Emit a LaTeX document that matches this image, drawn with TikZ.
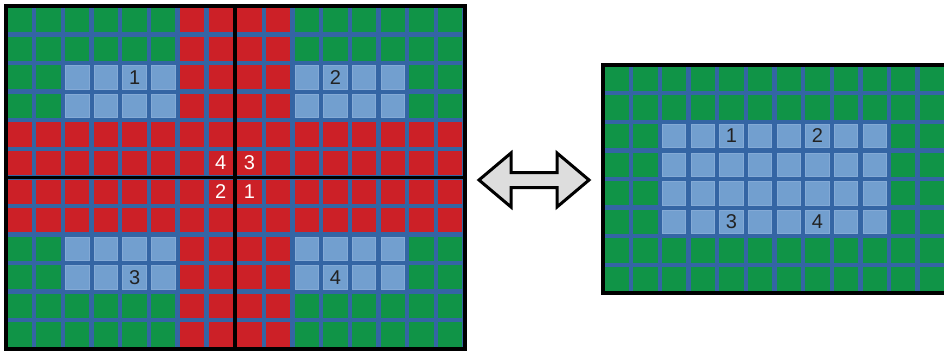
\documentclass[tikz,border=0pt]{standalone}
\usepackage{fontspec}
\setmainfont{Liberation Sans}
\definecolor{gr}{HTML}{109447}
\definecolor{rd}{HTML}{CC2027}
\definecolor{bl}{HTML}{3465A4}
\definecolor{lb}{HTML}{729FCF}
\definecolor{lbe}{HTML}{84AAD6}
\definecolor{ag}{HTML}{DDDDDD}
\definecolor{tx}{HTML}{222222}
\tikzset{
  cellg/.style={fill=gr},
  cellr/.style={fill=rd},
  cellb/.style={fill=lb, draw=lbe, line width=0.8pt},
  frame/.style={draw=black, line width=4pt},
  lbl/.style={font=\fontsize{20}{20}\selectfont, text=tx, inner sep=0pt},
  wlbl/.style={font=\fontsize{20}{20}\selectfont, text=white, inner sep=0pt},
}
\begin{document}
\begin{tikzpicture}[x=1pt,y=-1pt]
\useasboundingbox (0,0) rectangle (944,356);
\clip (0,0) rectangle (944,356);
% ---------- left grid ----------
\def\lx{5.5}\def\ly{6}\def\lpx{28.69}\def\lpy{28.56}
\fill[bl] (\lx,\ly) rectangle (464.5,348.7);
\foreach \c in {0,...,15} \foreach \r in {0,...,11}
  \path[cellg] (\lx+\c*\lpx+2.2,\ly+\r*\lpy+2.2) rectangle ++(24.3,24.16);
\foreach \c in {6,...,9} \foreach \r in {0,...,11}
  \path[cellr] (\lx+\c*\lpx+2.2,\ly+\r*\lpy+2.2) rectangle ++(24.3,24.16);
\foreach \c in {0,...,15} \foreach \r in {4,...,7}
  \path[cellr] (\lx+\c*\lpx+2.2,\ly+\r*\lpy+2.2) rectangle ++(24.3,24.16);
\foreach \c in {2,...,5,10,11,12,13} \foreach \r in {2,3,8,9}
  \path[cellb] (\lx+\c*\lpx+2.6,\ly+\r*\lpy+2.6) rectangle ++(23.5,23.36);
\draw[black, line width=3.5pt] (\lx+8*\lpx,\ly) -- (\lx+8*\lpx,348.7);
\draw[black, line width=3.5pt] (\lx,\ly+6*\lpy) -- (464.5,\ly+6*\lpy);
\path[frame] (\lx,\ly) rectangle (464.5,348.7);
\node[lbl] (l1) at (\lx+4.5*\lpx,\ly+2.5*\lpy) {1};
\node[lbl] (l2) at (\lx+11.5*\lpx,\ly+2.5*\lpy) {2};
\node[lbl] (l3) at (\lx+4.5*\lpx,\ly+9.5*\lpy) {3};
\node[lbl] (l4) at (\lx+11.5*\lpx,\ly+9.5*\lpy) {4};
\node[wlbl] (c4) at (\lx+7.5*\lpx,\ly+5.5*\lpy) {4};
\node[wlbl] (c3) at (\lx+8.5*\lpx,\ly+5.5*\lpy) {3};
\node[wlbl] (c2) at (\lx+7.5*\lpx,\ly+6.5*\lpy) {2};
\node[wlbl] (c1) at (\lx+8.5*\lpx,\ly+6.5*\lpy) {1};
% ---------- arrow ----------
\draw[fill=ag, line width=3pt, line join=miter]
  (479,180) -- (511,153) -- (511,172.5) -- (557,172.5) -- (557,153) -- (589,180)
  -- (557,207) -- (557,187.5) -- (511,187.5) -- (511,207) -- cycle;
% ---------- right grid ----------
\def\rx{602.5}\def\ry{64.5}\def\rpx{28.65}\def\rpy{28.6}
\fill[bl] (\rx,\ry) rectangle (\rx+13*\rpx,293.3);
\foreach \c in {0,...,12} \foreach \r in {0,...,7}
  \path[cellg] (\rx+\c*\rpx+2.2,\ry+\r*\rpy+2.2) rectangle ++(24.25,24.2);
\foreach \c in {2,...,9} \foreach \r in {2,...,5}
  \path[cellb] (\rx+\c*\rpx+2.6,\ry+\r*\rpy+2.6) rectangle ++(23.45,23.4);
\path[frame] (\rx,\ry) rectangle (\rx+13*\rpx,293.3);
\node[lbl] (r1) at (\rx+4.5*\rpx,\ry+2.5*\rpy) {1};
\node[lbl] (r2) at (\rx+7.5*\rpx,\ry+2.5*\rpy) {2};
\node[lbl] (r3) at (\rx+4.5*\rpx,\ry+5.5*\rpy) {3};
\node[lbl] (r4) at (\rx+7.5*\rpx,\ry+5.5*\rpy) {4};
\end{tikzpicture}
\end{document}
